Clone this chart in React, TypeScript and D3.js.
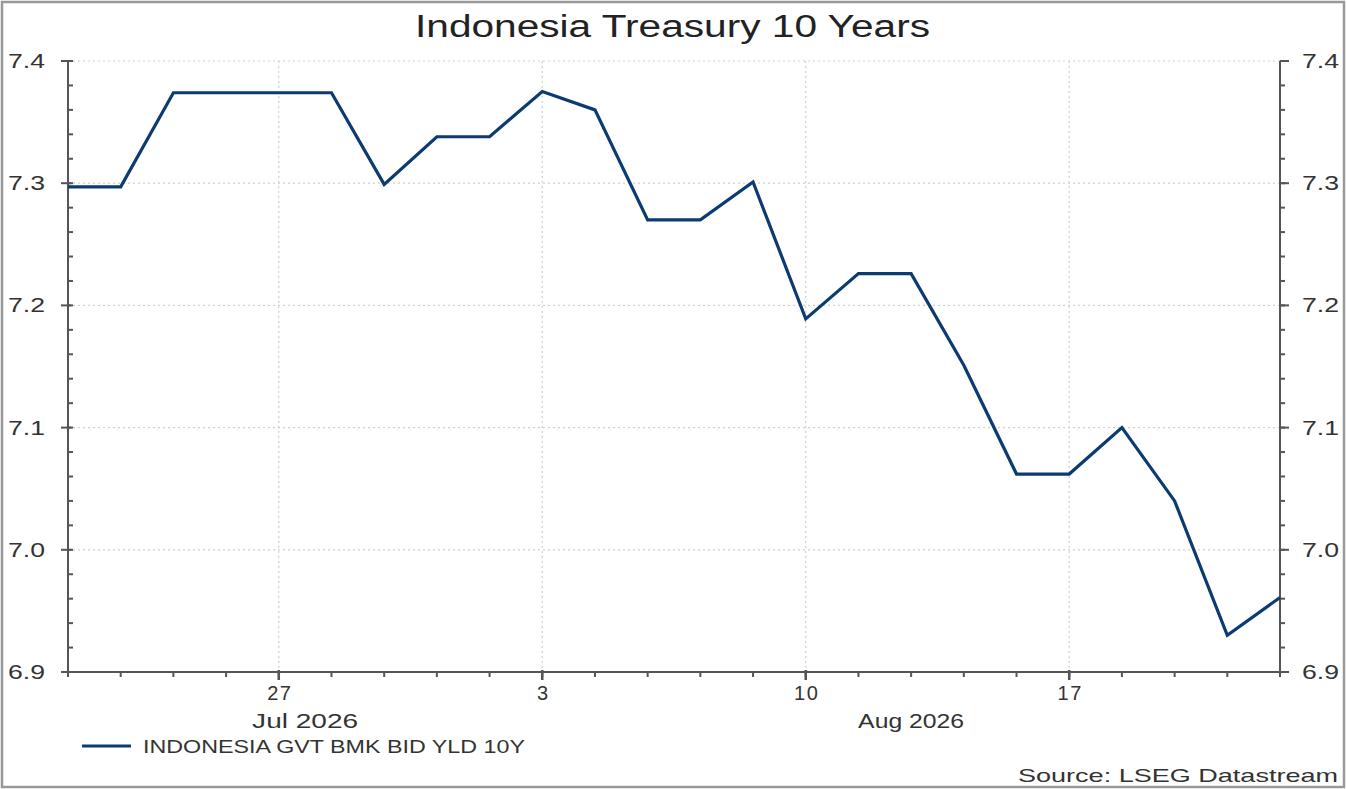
import { useEffect, useRef } from 'react';
import * as d3 from 'd3';

// business days only, Datastream style
const dates = [
  '2026-07-21', '2026-07-22', '2026-07-23', '2026-07-24',
  '2026-07-27', '2026-07-28', '2026-07-29', '2026-07-30', '2026-07-31',
  '2026-08-03', '2026-08-04', '2026-08-05', '2026-08-06', '2026-08-07',
  '2026-08-10', '2026-08-11', '2026-08-12', '2026-08-13', '2026-08-14',
  '2026-08-17', '2026-08-18', '2026-08-19', '2026-08-20', '2026-08-21',
];

const yields = [
  7.297, 7.297, 7.374, 7.374,
  7.374, 7.374, 7.299, 7.338, 7.338,
  7.375, 7.36, 7.27, 7.27, 7.301,
  7.189, 7.226, 7.226, 7.151, 7.062,
  7.062, 7.1, 7.04, 6.93, 6.961,
];

const yTicks = [6.9, 7.0, 7.1, 7.2, 7.3, 7.4];
const monthLabels = [
  { label: 'Jul 2026', from: '2026-07-27', to: '2026-07-28' },
  { label: 'Aug 2026', from: '2026-08-12', to: '2026-08-12' },
];

const title = 'Indonesia Treasury 10 Years';
const seriesName = 'INDONESIA GVT BMK BID YLD 10Y';
const source = 'Source: LSEG Datastream';

export default function App(): JSX.Element {
  const svgRef = useRef<SVGSVGElement>(null);

  useEffect(() => {
    const width = 1347;
    const height = 789;
    const marginLeft = 68;
    const marginRight = 67;
    const marginTop = 61;
    const marginBottom = 117;
    const font = '"Liberation Sans", Arial, sans-serif';
    const axisColor = '#555';
    const textColor = '#333';
    const lineColor = '#0b3b70';

    const svg = d3.select(svgRef.current);
    svg.selectAll('*').remove();
    svg.attr('width', width).attr('height', height).attr('viewBox', [0, 0, width, height]);

    const x = d3.scalePoint<string>(dates, [marginLeft, width - marginRight]);
    const y = d3.scaleLinear([6.9, 7.4], [height - marginBottom, marginTop]);
    const x0 = marginLeft;
    const x1 = width - marginRight;
    const yBottom = height - marginBottom;

    const parse = d3.utcParse('%Y-%m-%d');
    const mondays = dates.filter((d) => parse(d)!.getUTCDay() === 1);

    svg.append('rect').attr('width', width).attr('height', height).attr('fill', '#fff');
    svg
      .append('rect')
      .attr('x', 2)
      .attr('y', 2)
      .attr('width', width - 5)
      .attr('height', height - 4)
      .attr('fill', 'none')
      .attr('stroke', '#999')
      .attr('stroke-width', 2.5);

    // grid
    const grid = svg.append('g').attr('stroke', '#cfcfcf').attr('stroke-width', 1.2).attr('stroke-dasharray', '2,3');
    grid
      .selectAll('line.h')
      .data(yTicks.slice(1))
      .join('line')
      .attr('x1', x0)
      .attr('x2', x1)
      .attr('y1', (d) => y(d))
      .attr('y2', (d) => y(d));
    grid
      .selectAll('line.v')
      .data(mondays)
      .join('line')
      .attr('x1', (d) => x(d)!)
      .attr('x2', (d) => x(d)!)
      .attr('y1', marginTop)
      .attr('y2', yBottom);

    // axes
    const axes = svg.append('g').attr('stroke', axisColor).attr('stroke-width', 2);
    axes.append('line').attr('x1', x0).attr('x2', x0).attr('y1', marginTop).attr('y2', yBottom);
    axes.append('line').attr('x1', x1).attr('x2', x1).attr('y1', marginTop).attr('y2', yBottom);
    axes.append('line').attr('x1', x0).attr('x2', x1).attr('y1', yBottom).attr('y2', yBottom);

    const minor = d3.range(0, 26).map((i) => 6.9 + i * 0.02);
    axes
      .selectAll('line.lminor')
      .data(minor)
      .join('line')
      .attr('x1', x0)
      .attr('x2', x0 + 5)
      .attr('y1', (d) => y(d))
      .attr('y2', (d) => y(d));
    axes
      .selectAll('line.lmajor')
      .data(yTicks)
      .join('line')
      .attr('x1', x0 - 7)
      .attr('x2', x0 + 3)
      .attr('y1', (d) => y(d))
      .attr('y2', (d) => y(d));
    axes
      .selectAll('line.rminor')
      .data(minor)
      .join('line')
      .attr('x1', x1)
      .attr('x2', x1 + 5)
      .attr('y1', (d) => y(d))
      .attr('y2', (d) => y(d));
    axes
      .selectAll('line.rmajor')
      .data(yTicks)
      .join('line')
      .attr('x1', x1)
      .attr('x2', x1 + 9)
      .attr('y1', (d) => y(d))
      .attr('y2', (d) => y(d));
    axes
      .selectAll('line.xminor')
      .data(dates)
      .join('line')
      .attr('x1', (d) => x(d)!)
      .attr('x2', (d) => x(d)!)
      .attr('y1', yBottom)
      .attr('y2', yBottom + 5);
    axes
      .selectAll('line.xmajor')
      .data(mondays)
      .join('line')
      .attr('x1', (d) => x(d)!)
      .attr('x2', (d) => x(d)!)
      .attr('y1', yBottom - 2)
      .attr('y2', yBottom + 8)
      .attr('stroke-width', 2.5);

    const labels = svg.append('g').attr('font-family', font).attr('font-size', 20).attr('fill', textColor);
    labels
      .selectAll('text.yl')
      .data(yTicks)
      .join('text')
      .attr('x', 8)
      .attr('y', (d) => y(d))
      .attr('dy', '0.35em')
      .attr('textLength', 37)
      .attr('lengthAdjust', 'spacingAndGlyphs')
      .text((d) => d.toFixed(1));
    labels
      .selectAll('text.yr')
      .data(yTicks)
      .join('text')
      .attr('x', 1302)
      .attr('y', (d) => y(d))
      .attr('dy', '0.35em')
      .attr('textLength', 37)
      .attr('lengthAdjust', 'spacingAndGlyphs')
      .text((d) => d.toFixed(1));
    labels
      .selectAll('text.xl')
      .data(mondays)
      .join('text')
      .attr('x', (d) => x(d)! + 1)
      .attr('y', yBottom + 21)
      .attr('dy', '0.35em')
      .attr('text-anchor', 'middle')
      .attr('letter-spacing', 1.5)
      .text((d) => String(parse(d)!.getUTCDate()));
    labels
      .selectAll('text.ml')
      .data(monthLabels)
      .join('text')
      .attr('x', (d) => (x(d.from)! + x(d.to)!) / 2 - 53)
      .attr('y', yBottom + 49)
      .attr('dy', '0.35em')
      .attr('textLength', 106)
      .attr('lengthAdjust', 'spacingAndGlyphs')
      .text((d) => d.label);

    // series
    const line = d3
      .line<number>()
      .x((_, i) => x(dates[i])!)
      .y((d) => y(d));
    svg
      .append('path')
      .attr('fill', 'none')
      .attr('stroke', lineColor)
      .attr('stroke-width', 3.2)
      .attr('stroke-linejoin', 'miter')
      .attr('d', line(yields));

    // title
    svg
      .append('text')
      .attr('x', 415)
      .attr('y', 37)
      .attr('font-family', font)
      .attr('font-size', 31)
      .attr('fill', '#222')
      .attr('textLength', 515)
      .attr('lengthAdjust', 'spacingAndGlyphs')
      .text(title);

    // legend
    svg
      .append('line')
      .attr('x1', 82)
      .attr('x2', 131)
      .attr('y1', 746)
      .attr('y2', 746)
      .attr('stroke', lineColor)
      .attr('stroke-width', 3);
    svg
      .append('text')
      .attr('x', 143)
      .attr('y', 746)
      .attr('dy', '0.35em')
      .attr('font-family', font)
      .attr('font-size', 19)
      .attr('fill', textColor)
      .attr('textLength', 382)
      .attr('lengthAdjust', 'spacingAndGlyphs')
      .text(seriesName);

    svg
      .append('text')
      .attr('x', 1018)
      .attr('y', 775)
      .attr('dy', '0.35em')
      .attr('font-family', font)
      .attr('font-size', 19)
      .attr('fill', textColor)
      .attr('textLength', 320)
      .attr('lengthAdjust', 'spacingAndGlyphs')
      .text(source);
  }, []);

  return (
    <div style={{ position: 'absolute', left: 0, top: 0 }}>
      <svg ref={svgRef} style={{ display: 'block' }} />
    </div>
  );
}
